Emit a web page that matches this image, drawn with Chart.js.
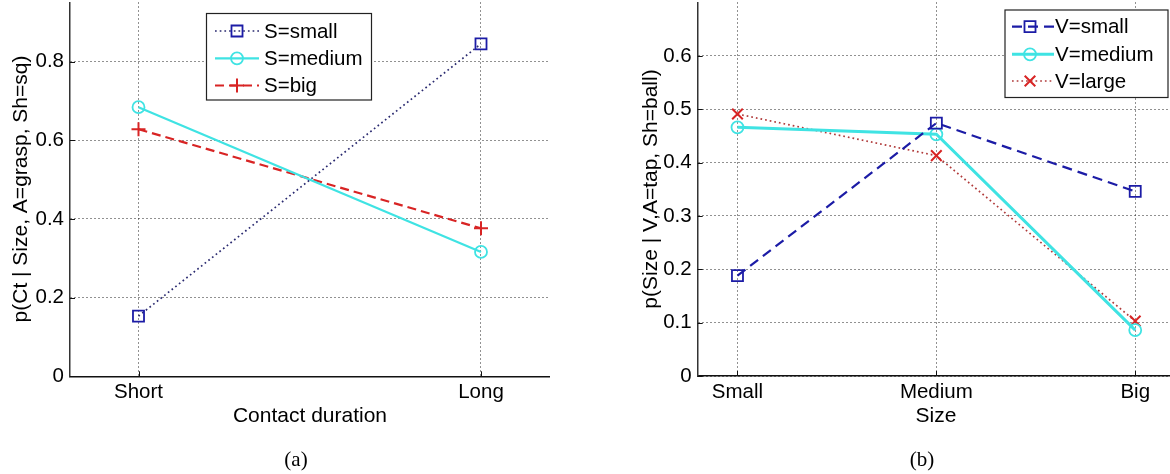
<!DOCTYPE html>
<html><head><meta charset="utf-8">
<script src="https://cdn.jsdelivr.net/npm/chart.js@4.4.0/dist/chart.umd.min.js"></script>
<style>
html,body{margin:0;padding:0;background:#fff;overflow:hidden;width:1170px;height:474px;position:relative;}
#wrapA{position:absolute;left:0;top:0;width:580px;height:474px;}
#wrapB{position:absolute;left:580px;top:0;width:620px;height:474px;}
.cap{position:absolute;font-family:'Liberation Serif','Times New Roman',serif;font-size:21px;line-height:24px;top:447px;transform:translateX(-50%);color:#000;}
</style></head><body>
<div id="wrapA"><canvas id="cA" width="580" height="474"></canvas></div>
<div id="wrapB"><canvas id="cB" width="620" height="474"></canvas></div>
<div class="cap" style="left:296px">(a)</div>
<div class="cap" style="left:922px">(b)</div>
<script>
// ---------- data (a) ----------
const durationLabels = ['Short', 'Long'];
const sSmall  = [0.153, 0.845];
const sMedium = [0.684, 0.316];
const sBig    = [0.628, 0.376];
const yTicksA = [0, 0.2, 0.4, 0.6, 0.8];
// ---------- data (b) ----------
const sizeLabels = ['Small', 'Medium', 'Big'];
const vSmall  = [0.188, 0.474, 0.346];
const vMedium = [0.466, 0.453, 0.086];
const vLarge  = [0.491, 0.413, 0.103];
const yTicksB = [0, 0.1, 0.2, 0.3, 0.4, 0.5, 0.6];

const FONT = "'Liberation Sans', Arial, Helvetica, sans-serif";
const toXY = arr => arr.map((v, i) => ({x: i + 1, y: v}));

function drawMarker(ctx, style, x, y, r, color, lw) {
  ctx.save();
  ctx.setLineDash([]);
  ctx.strokeStyle = color; ctx.lineWidth = lw;
  ctx.beginPath();
  if (style === 'rect') { const s = Math.SQRT1_2 * r; ctx.rect(x - s, y - s, 2 * s, 2 * s); }
  else if (style === 'circle') { ctx.arc(x, y, r, 0, Math.PI * 2); }
  else if (style === 'cross') { ctx.moveTo(x - r, y); ctx.lineTo(x + r, y); ctx.moveTo(x, y - r); ctx.lineTo(x, y + r); }
  else if (style === 'crossRot') { const o = Math.SQRT1_2 * r; ctx.moveTo(x - o, y - o); ctx.lineTo(x + o, y + o); ctx.moveTo(x + o, y - o); ctx.lineTo(x - o, y + o); }
  ctx.stroke();
  ctx.restore();
}

const matLegend = {
  id: 'matLegend',
  afterDatasetsDraw(chart, args, o) {
    if (!o || !o.box) return;
    const ctx = chart.ctx;
    const [x1, y1, x2, y2] = o.box;
    ctx.save();
    ctx.fillStyle = '#fff';
    ctx.fillRect(x1, y1, x2 - x1, y2 - y1);
    ctx.strokeStyle = '#222'; ctx.lineWidth = 1.2;
    ctx.strokeRect(x1, y1, x2 - x1, y2 - y1);
    chart.data.datasets.forEach((ds, i) => {
      const y = o.rows[i];
      ctx.save();
      ctx.strokeStyle = ds.borderColor; ctx.lineWidth = ds.borderWidth;
      ctx.setLineDash(ds.borderDash || []);
      ctx.beginPath(); ctx.moveTo(o.lineX[0], y); ctx.lineTo(o.lineX[1], y); ctx.stroke();
      ctx.restore();
      drawMarker(ctx, ds.pointStyle, o.markerX, y, ds.pointRadius, ds.pointBorderColor, ds.pointBorderWidth);
      ctx.fillStyle = '#000';
      ctx.font = '20.5px ' + FONT;
      ctx.textBaseline = 'middle'; ctx.textAlign = 'left';
      ctx.fillText(ds.label, o.textX, y + 1);
    });
    ctx.restore();
  }
};

const axisExtras = {
  id: 'axisExtras',
  afterDraw(chart, args, o) {
    const ctx = chart.ctx, a = chart.chartArea;
    const xs = chart.scales.x, ys = chart.scales.y;
    ctx.save();
    ctx.strokeStyle = '#111'; ctx.lineWidth = 1; ctx.setLineDash([]);
    ctx.beginPath();
    xs.ticks.forEach(t => { const px = Math.round(xs.getPixelForValue(t.value)) + 0.5; ctx.moveTo(px, a.bottom); ctx.lineTo(px, a.bottom - 5); });
    ys.ticks.forEach(t => { const py = Math.round(ys.getPixelForValue(t.value)) + 0.5; ctx.moveTo(a.left, py); ctx.lineTo(a.left + 5, py); });
    ctx.stroke();
    ctx.fillStyle = '#000';
    ctx.font = '21px ' + FONT;
    ctx.textAlign = 'center'; ctx.textBaseline = 'middle';
    ctx.fillText(o.xTitle, o.xTitlePos[0], o.xTitlePos[1]);
    ctx.translate(o.yTitlePos[0], o.yTitlePos[1]);
    ctx.rotate(-Math.PI / 2);
    ctx.fillText(o.yTitle, 0, 0);
    ctx.restore();
  }
};

function zeroPad(s) { s.paddingTop = 0; s.paddingBottom = 0; s.paddingLeft = 0; s.paddingRight = 0; }

function makeChart(canvasId, cfg) {
  const lastX = cfg.labels.length;
  return new Chart(document.getElementById(canvasId), {
    type: 'line',
    data: { datasets: cfg.datasets },
    plugins: [matLegend, axisExtras],
    options: {
      responsive: false, animation: false, devicePixelRatio: 1,
      layout: { autoPadding: false, padding: { top: cfg.top, right: cfg.right, left: 0, bottom: 0 } },
      elements: { line: { tension: 0, fill: false } },
      plugins: {
        legend: { display: false }, tooltip: { enabled: false },
        matLegend: cfg.legend,
        axisExtras: cfg.titles
      },
      scales: {
        x: {
          type: 'linear', min: 0.8, max: lastX + 0.2,
          afterBuildTicks: s => { s.ticks = cfg.labels.map((_, i) => ({ value: i + 1 })); },
          afterFit: s => { s.height = cfg.xHeight; zeroPad(s); },
          ticks: { color: '#000', font: { size: 20.5, family: FONT }, padding: 4, maxRotation: 0, autoSkip: false,
                   callback: v => cfg.labels[Math.round(v) - 1] },
          grid: { color: '#222', lineWidth: 1, drawTicks: false },
          border: { display: true, color: '#111', width: 1.5, dash: [1, 3] }
        },
        y: {
          type: 'linear', min: 0, max: cfg.yMax,
          afterBuildTicks: s => { s.ticks = cfg.yTicks.map(v => ({ value: v })); },
          afterFit: s => { s.width = cfg.yWidth; zeroPad(s); },
          ticks: { color: '#000', font: { size: 20.5, family: FONT }, padding: 6,
                   callback: v => v === 0 ? '0' : v.toFixed(1) },
          grid: { color: '#222', lineWidth: 1, drawTicks: false },
          border: { display: true, color: '#333', width: 1.5, dash: [1, 3] }
        }
      }
    }
  });
}

const BLUE = '#1c1ca6', CYAN = '#3fe3e3', RED = '#d82424', DRED = '#b03a3a';
const none = 'rgba(0,0,0,0)';

makeChart('cA', {
  labels: durationLabels, yTicks: yTicksA, yMax: 0.95,
  top: 2.5, right: 30.5, yWidth: 70, xHeight: 97.7,
  datasets: [
    { label: 'S=small', data: toXY(sSmall), borderColor: '#2a2a70', borderWidth: 1.7, borderDash: [1.7, 3],
      pointStyle: 'rect', pointRadius: 7.8, pointBorderColor: BLUE, pointBackgroundColor: none, pointBorderWidth: 1.8 },
    { label: 'S=medium', data: toXY(sMedium), borderColor: CYAN, borderWidth: 2.2, borderDash: [],
      pointStyle: 'circle', pointRadius: 6, pointBorderColor: CYAN, pointBackgroundColor: none, pointBorderWidth: 1.8 },
    { label: 'S=big', data: toXY(sBig), borderColor: RED, borderWidth: 2.2, borderDash: [9, 5],
      pointStyle: 'cross', pointRadius: 7, pointBorderColor: RED, pointBackgroundColor: none, pointBorderWidth: 2 }
  ],
  legend: { box: [206.5, 13.5, 371.5, 100], rows: [31, 58.3, 85.5], lineX: [215, 259], markerX: 237, textX: 264 },
  titles: { xTitle: 'Contact duration', xTitlePos: [310, 416], yTitle: 'p(Ct | Size, A=grasp, Sh=sq)', yTitlePos: [21, 189] }
});

makeChart('cB', {
  labels: sizeLabels, yTicks: yTicksB, yMax: 0.7,
  top: 2.5, right: 25, yWidth: 117.7, xHeight: 98,
  datasets: [
    { label: 'V=small', data: toXY(vSmall), borderColor: BLUE, borderWidth: 2.2, borderDash: [10, 6],
      pointStyle: 'rect', pointRadius: 7.8, pointBorderColor: BLUE, pointBackgroundColor: none, pointBorderWidth: 1.8 },
    { label: 'V=medium', data: toXY(vMedium), borderColor: CYAN, borderWidth: 3, borderDash: [],
      pointStyle: 'circle', pointRadius: 6, pointBorderColor: CYAN, pointBackgroundColor: none, pointBorderWidth: 1.8 },
    { label: 'V=large', data: toXY(vLarge), borderColor: DRED, borderWidth: 1.7, borderDash: [1.7, 3],
      pointStyle: 'crossRot', pointRadius: 7.5, pointBorderColor: RED, pointBackgroundColor: none, pointBorderWidth: 2 }
  ],
  legend: { box: [425, 10, 588, 97.5], rows: [26.7, 54.3, 81], lineX: [432, 474], markerX: 450, textX: 475 },
  titles: { xTitle: 'Size', xTitlePos: [356, 416], yTitle: 'p(Size | V,A=tap, Sh=ball)', yTitlePos: [71, 189] }
});
</script>
</body></html>
